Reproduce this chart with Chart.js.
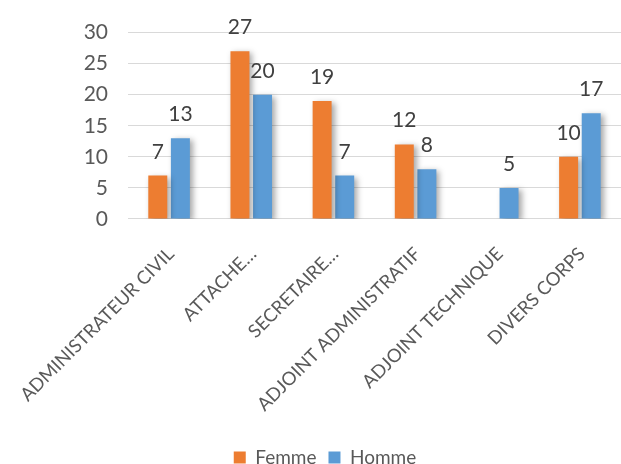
<!DOCTYPE html>
<html>
<head>
<meta charset="utf-8">
<script src="https://cdn.jsdelivr.net/npm/chart.js@4"></script>
<style>
html,body{margin:0;padding:0;background:#fff;}
#wrap{width:621px;height:464px;}
</style>
</head>
<body>
<div id="wrap"><canvas id="c" width="621" height="464"></canvas></div>
<script>
const categories = ["ADMINISTRATEUR CIVIL", "ATTACHE…", "SECRETAIRE…", "ADJOINT ADMINISTRATIF", "ADJOINT TECHNIQUE", "DIVERS CORPS"];
const femme = [7, 27, 19, 12, null, 10];
const homme = [13, 20, 7, 8, 5, 17];
const seriesNames = ["Femme", "Homme"];
const colors = ["#ED7D31", "#5B9BD5"];
const FONT = "Lato, 'Open Sans', sans-serif";

const shadowPlugin = {
  id: 'barShadow',
  beforeDatasetDraw(chart) {
    const ctx = chart.ctx;
    ctx.save();
    ctx.shadowColor = 'rgba(0,0,0,0.35)';
    ctx.shadowBlur = 6;
    ctx.shadowOffsetX = 3;
    ctx.shadowOffsetY = 2;
  },
  afterDatasetDraw(chart) {
    chart.ctx.restore();
  }
};

const labelPlugin = {
  id: 'valueLabels',
  afterDatasetsDraw(chart) {
    const ctx = chart.ctx;
    ctx.save();
    ctx.font = '21px ' + FONT;
    ctx.fillStyle = '#404040';
    ctx.textAlign = 'center';
    ctx.textBaseline = 'alphabetic';
    chart.data.datasets.forEach((ds, i) => {
      const meta = chart.getDatasetMeta(i);
      meta.data.forEach((bar, j) => {
        const v = ds.data[j];
        if (v === null || v === undefined) return;
        ctx.fillText(String(v), bar.x, bar.y - 17);
      });
    });
    ctx.restore();
  }
};

const legendShift = {
  id: 'legendShift',
  afterLayout(chart) {
    const lg = chart.legend;
    if (!lg) return;
    const shift = 325 - (lg.left + lg.right) / 2;
    lg.left += shift;
    lg.right += shift;
  }
};

new Chart(document.getElementById('c'), {
  type: 'bar',
  data: {
    labels: categories,
    datasets: [
      { label: seriesNames[0], data: femme, backgroundColor: colors[0], categoryPercentage: 0.55, barPercentage: 0.84 },
      { label: seriesNames[1], data: homme, backgroundColor: colors[1], categoryPercentage: 0.55, barPercentage: 0.84 }
    ]
  },
  options: {
    responsive: false,
    animation: false,
    layout: { padding: { top: 22, right: -3, left: 0, bottom: -13 } },
    plugins: {
      legend: {
        position: 'bottom',
        labels: { boxWidth: 12, boxHeight: 12, font: { size: 19, family: FONT }, color: '#595959', padding: 12 }
      },
      tooltip: { enabled: false }
    },
    scales: {
      x: {
        grid: { display: false, drawTicks: false },
        border: { display: true, color: '#d9d9d9' },
        ticks: { maxRotation: 45, minRotation: 45, autoSkip: false, font: { size: 18.5, family: FONT }, color: '#595959', padding: 24, labelOffset: 2 },
        afterFit(scale) { scale.height = 217; scale.paddingLeft = 0; scale.paddingRight = 0; }
      },
      y: {
        min: 0, max: 30,
        grid: { color: '#d9d9d9', drawTicks: false },
        border: { display: false },
        ticks: { stepSize: 5, font: { size: 21, family: FONT }, color: '#595959', padding: 20 },
        afterFit(scale) { scale.width = 128; }
      }
    }
  },
  plugins: [shadowPlugin, labelPlugin, legendShift]
});
</script>
</body>
</html>
